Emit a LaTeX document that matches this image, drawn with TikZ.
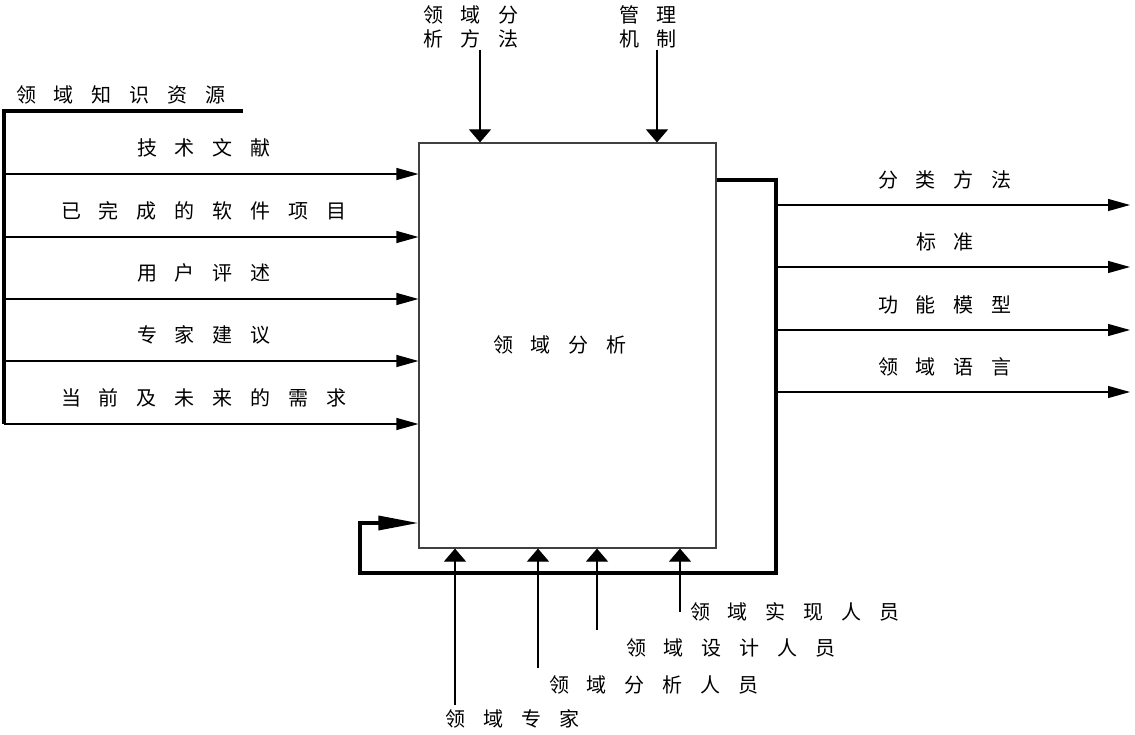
\documentclass[tikz,border=0pt]{standalone}
\usepackage{fontspec}
\newfontfamily\cjk{Noto Sans CJK SC}
\usetikzlibrary{arrows.meta}
\newcommand\kk{\hspace{0.9em}}
\begin{document}
\begin{tikzpicture}[x=1pt,y=-1pt,
  lbl/.style={font=\cjk\fontsize{20}{24}\selectfont, inner sep=0pt, align=center},
  harr/.style={-{Triangle[length=22pt,width=12pt]}, line width=1.2pt},
  varr/.style={-{Triangle[length=13pt,width=22pt]}, line width=1.2pt},
  heavy/.style={line width=3.4pt}]
\useasboundingbox (0,0) rectangle (1135,735);
% main box
\node[draw=black!75, line width=1.2pt, minimum width=297pt, minimum height=405pt, inner sep=0pt] (box) at (567.5,345.5) {};
\node[lbl] (center) at (560,345) {领\kk 域\kk 分\kk 析};
% left bracket
\coordinate (bt) at (4,111);
\coordinate (bb) at (4,424);
\coordinate (be) at (243,111);
\draw[heavy] (be) -- (bt) -- (bb);
\node[lbl] (kr) at (121,95) {领\kk 域\kk 知\kk 识\kk 资\kk 源};
\foreach \y/\t [count=\i] in {174/{技\kk 术\kk 文\kk 献},
  237/{已\kk 完\kk 成\kk 的\kk 软\kk 件\kk 项\kk 目},
  299/{用\kk 户\kk 评\kk 述},
  361/{专\kk 家\kk 建\kk 议},
  424/{当\kk 前\kk 及\kk 未\kk 来\kk 的\kk 需\kk 求}}{
  \coordinate (in\i) at (4,\y);
  \draw[harr] (in\i) -- (in\i -| box.west);
  \node[lbl] (inl\i) at (204,\y-26) {\t};
}
% top controls
\node[lbl] (m1) at (471,27) {领\kk 域\kk 分\\析\kk 方\kk 法};
\node[lbl] (m2) at (648,27) {管\kk 理\\机\kk 制};
\coordinate (m1s) at (480,50);
\coordinate (m2s) at (657,50);
\draw[varr] (m1s) -- (m1s |- box.north);
\draw[varr] (m2s) -- (m2s |- box.north);
% output bracket and feedback
\coordinate (ob) at (776,180);
\coordinate (oc) at (776,573);
\coordinate (od) at (360,573);
\coordinate (oe) at (360,523);
\draw[heavy, -{Triangle[length=40pt,width=14pt]}] (ob -| box.east) -- (ob) -- (oc) -- (od) -- (oe) -- (oe -| box.west);
\foreach \y/\t [count=\i] in {205/{分\kk 类\kk 方\kk 法},
  267/{标\kk 准},
  330/{功\kk 能\kk 模\kk 型},
  392/{领\kk 域\kk 语\kk 言}}{
  \coordinate (out\i) at (776,\y);
  \coordinate (oute\i) at (1130,\y);
  \draw[harr] (out\i) -- (oute\i);
  \node[lbl] (outl\i) at (945,\y-25) {\t};
}
% bottom mechanisms
\foreach \x/\s/\lx/\ly/\t [count=\i] in {455/705/512.5/719/{领\kk 域\kk 专\kk 家},
  538/668/654/685/{领\kk 域\kk 分\kk 析\kk 人\kk 员},
  597/630/731/648/{领\kk 域\kk 设\kk 计\kk 人\kk 员},
  680/612/795/612/{领\kk 域\kk 实\kk 现\kk 人\kk 员}}{
  \coordinate (mc\i) at (\x,\s);
  \draw[varr] (mc\i) -- (mc\i |- box.south);
  \node[lbl] (mcl\i) at (\lx,\ly) {\t};
}
\end{tikzpicture}
\end{document}
